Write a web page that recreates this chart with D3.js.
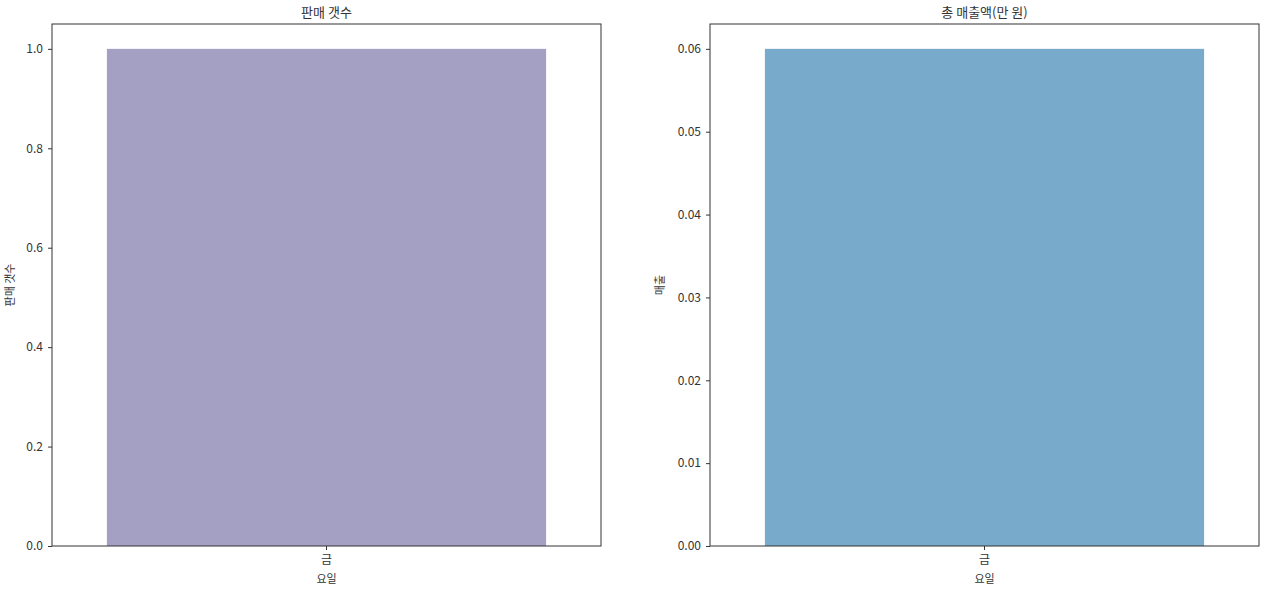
<!DOCTYPE html>
<html>
<head>
<meta charset="utf-8">
<script src="https://cdn.jsdelivr.net/npm/d3@7"></script>
<style>
  body { margin: 0; background: #fff; }
  svg text { font-family: "Noto Sans CJK KR", "Noto Sans", sans-serif; fill: #333; }
</style>
</head>
<body>
<svg id="chart" width="1265" height="592"></svg>
<script>
var width = 1265;
var height = 592;

// data
var days = ["금"];
var salesCount = [1];
var salesAmount = [0.06];
var countTicks = [0, 0.2, 0.4, 0.6, 0.8, 1.0];
var amountTicks = [0, 0.01, 0.02, 0.03, 0.04, 0.05, 0.06];

var svg = d3.select("#chart");

function drawPanel(opt) {
    let g = svg.append("g");
    let x = d3.scaleBand().domain(days).range([opt.x0, opt.x1]).paddingInner(0.2).paddingOuter(0.1);
    let y = d3.scaleLinear().domain([0, opt.ymax]).range([opt.y1, opt.y0]);

    g.selectAll(".bar")
        .data(opt.values)
        .join("rect")
        .attr("class", "bar")
        .attr("x", (d, i) => x(days[i]))
        .attr("width", x.bandwidth())
        .attr("y", d => y(d))
        .attr("height", d => y(0) - y(d))
        .attr("fill", opt.color);

    // frame
    g.append("rect")
        .attr("x", opt.x0).attr("y", opt.y0)
        .attr("width", opt.x1 - opt.x0).attr("height", opt.y1 - opt.y0)
        .attr("fill", "none").attr("stroke", "#333").attr("stroke-width", 1);

    let yAxis = g.append("g")
        .attr("transform", `translate(${opt.x0},0)`)
        .call(d3.axisLeft(y).tickValues(opt.ticks).tickFormat(opt.fmt).tickSize(4).tickPadding(5));
    let xAxis = g.append("g")
        .attr("transform", `translate(0,${opt.y1})`)
        .call(d3.axisBottom(x).tickSize(4).tickPadding(5));
    [yAxis, xAxis].forEach(a => {
        a.select(".domain").remove();
        a.selectAll("line").attr("stroke", "#333");
        a.selectAll("text").attr("font-size", 12).attr("fill", "#333");
    });

    g.append("text")
        .attr("x", (opt.x0 + opt.x1) / 2).attr("y", 17)
        .attr("text-anchor", "middle").attr("font-size", 13)
        .text(opt.title);
    g.append("text")
        .attr("x", (opt.x0 + opt.x1) / 2).attr("y", 583)
        .attr("text-anchor", "middle").attr("font-size", 11)
        .text("요일");
    g.append("text")
        .attr("transform", `translate(${opt.labelX},${(opt.y0 + opt.y1) / 2}) rotate(-90)`)
        .attr("text-anchor", "middle").attr("font-size", 11)
        .text(opt.ylabel);
}

drawPanel({
    x0: 52, x1: 601, y0: 24, y1: 546,
    ymax: 1.05, values: salesCount, ticks: countTicks, fmt: d3.format(".1f"),
    color: "#a3a0c4", title: "판매 갯수", ylabel: "판매 갯수", labelX: 14
});
drawPanel({
    x0: 710, x1: 1259, y0: 24, y1: 546,
    ymax: 0.063, values: salesAmount, ticks: amountTicks, fmt: d3.format(".2f"),
    color: "#78abcb", title: "총 매출액(만 원)", ylabel: "매출", labelX: 664
});
</script>
</body>
</html>
